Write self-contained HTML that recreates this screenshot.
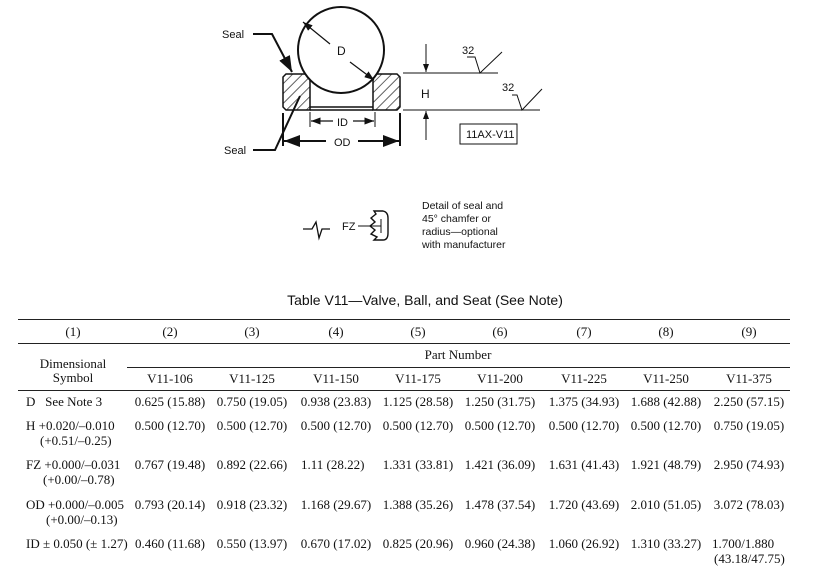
<!DOCTYPE html>
<html><head><meta charset="utf-8"><style>
body{margin:0;background:#fff;width:827px;height:569px;position:relative;overflow:hidden;font-family:"Liberation Serif",serif;color:#111}
.t{position:absolute;font-size:13px;white-space:nowrap;line-height:1}
.c{transform:translateX(-50%)}
.ln{position:absolute;height:1px;background:#222}
</style></head><body>
<svg width="827" height="315" style="position:absolute;left:0;top:0" font-family="Liberation Sans, sans-serif" font-size="11">
<defs>
<pattern id="h" width="7" height="7" patternUnits="userSpaceOnUse" patternTransform="rotate(45)"><line x1="0" y1="0" x2="0" y2="7" stroke="#222" stroke-width="1.4"/></pattern>
<marker id="a" markerWidth="8" markerHeight="6" refX="8" refY="3" orient="auto"><path d="M0,0L8,3L0,6z" fill="#111"/></marker>
</defs>
<g stroke="#111" fill="none" stroke-width="1.5">
<path d="M286,74H310V110H286L283,107V77Z" fill="url(#h)"/>
<path d="M373,74H397L400,77V107L397,110H373Z" fill="url(#h)"/>
<line x1="310" y1="107" x2="373" y2="107"/>
<line x1="310" y1="110" x2="373" y2="110"/>
<circle cx="341" cy="50" r="43" fill="#fff" stroke-width="2"/>
<line x1="330" y1="44" x2="303" y2="22" marker-end="url(#a)" stroke-width="1.2"/>
<line x1="350" y1="62" x2="374" y2="80" marker-end="url(#a)" stroke-width="1.2"/>
<polyline points="253,34 272,34 292,72" marker-end="url(#a)" stroke-width="2"/>
<polyline points="253,150 275,150 300,96" stroke-width="2"/>
<line x1="310" y1="112" x2="310" y2="127" stroke-width="1"/>
<line x1="375" y1="112" x2="375" y2="127" stroke-width="1"/>
<line x1="333" y1="121" x2="311" y2="121" marker-end="url(#a)" stroke-width="1.2"/>
<line x1="353" y1="121" x2="374" y2="121" marker-end="url(#a)" stroke-width="1.2"/>
<line x1="283" y1="113" x2="283" y2="146" stroke-width="2"/>
<line x1="400" y1="113" x2="400" y2="146" stroke-width="2"/>
<line x1="326" y1="141" x2="284" y2="141" marker-end="url(#a)" stroke-width="2"/>
<line x1="358" y1="141" x2="399" y2="141" marker-end="url(#a)" stroke-width="2"/>
<line x1="403" y1="73" x2="498" y2="73" stroke-width="1"/>
<line x1="403" y1="110" x2="540" y2="110" stroke-width="1"/>
<line x1="426" y1="44" x2="426" y2="72" marker-end="url(#a)" stroke-width="1"/>
<line x1="426" y1="140" x2="426" y2="111" marker-end="url(#a)" stroke-width="1"/>
<polyline points="467,57 475,57 480,73 502,52" stroke-width="1"/>
<polyline points="512,95 517,95 522,110 542,89" stroke-width="1"/>
<rect x="460" y="124" width="57" height="20" stroke-width="1"/>
<path d="M303,229H312L316,222L319,238L322,229H330" stroke-width="1.3"/>
<line x1="358" y1="226" x2="368" y2="226" stroke-width="1"/>
<path d="M374,211H383Q388,212 388,218V233Q388,240 383,240H374L377,237L371,234L375,230L370,226L375,222L371,218L376,214Z" stroke-width="1.4"/>
<line x1="368" y1="226" x2="381" y2="226" stroke-width="1"/>
<line x1="381" y1="219" x2="381" y2="233" stroke-width="1"/>
</g>
<g fill="#111">
<text x="222" y="38">Seal</text>
<text x="224" y="154">Seal</text>
<text x="337" y="55" font-size="12">D</text>
<text x="421" y="98" font-size="12">H</text>
<text x="337" y="126">ID</text>
<text x="334" y="146">OD</text>
<text x="462" y="54">32</text>
<text x="502" y="91">32</text>
<text x="466" y="138">11AX-V11</text>
<text x="342" y="230">FZ</text>
<text x="422" y="209" font-size="10.5">Detail of seal and</text>
<text x="422" y="222" font-size="10.5">45° chamfer or</text>
<text x="422" y="235" font-size="10.5">radius—optional</text>
<text x="422" y="248" font-size="10.5">with manufacturer</text>
<text x="425" y="305" font-size="14" text-anchor="middle">Table  V11—Valve, Ball, and Seat (See Note)</text>
</g>
</svg>
<div class="ln" style="left:18px;top:319px;width:772px"></div>
<div class="ln" style="left:18px;top:343px;width:772px"></div>
<div class="ln" style="left:127px;top:367px;width:663px"></div>
<div class="ln" style="left:18px;top:390px;width:772px"></div>

<div class="t c" style="left:73px;top:325px">(1)</div>
<div class="t c" style="left:170px;top:325px">(2)</div>
<div class="t c" style="left:252px;top:325px">(3)</div>
<div class="t c" style="left:336px;top:325px">(4)</div>
<div class="t c" style="left:418px;top:325px">(5)</div>
<div class="t c" style="left:500px;top:325px">(6)</div>
<div class="t c" style="left:584px;top:325px">(7)</div>
<div class="t c" style="left:666px;top:325px">(8)</div>
<div class="t c" style="left:749px;top:325px">(9)</div>
<div class="t c" style="left:458px;top:348px">Part Number</div>
<div class="t c" style="left:73px;top:357px">Dimensional</div>
<div class="t c" style="left:73px;top:371px">Symbol</div>
<div class="t c" style="left:170px;top:372px">V11-106</div>
<div class="t c" style="left:252px;top:372px">V11-125</div>
<div class="t c" style="left:336px;top:372px">V11-150</div>
<div class="t c" style="left:418px;top:372px">V11-175</div>
<div class="t c" style="left:500px;top:372px">V11-200</div>
<div class="t c" style="left:584px;top:372px">V11-225</div>
<div class="t c" style="left:666px;top:372px">V11-250</div>
<div class="t c" style="left:749px;top:372px">V11-375</div>

<div class="t" style="left:26px;top:395px">D&nbsp;&nbsp;&nbsp;See Note 3</div>
<div class="t" style="left:26px;top:419px">H +0.020/–0.010</div>
<div class="t" style="left:40px;top:434px">(+0.51/–0.25)</div>
<div class="t" style="left:26px;top:458px">FZ +0.000/–0.031</div>
<div class="t" style="left:43px;top:473px">(+0.00/–0.78)</div>
<div class="t" style="left:26px;top:498px">OD +0.000/–0.005</div>
<div class="t" style="left:46px;top:513px">(+0.00/–0.13)</div>
<div class="t" style="left:26px;top:537px">ID ± 0.050 (± 1.27)</div>

<div class="t c" style="left:170px;top:395px">0.625 (15.88)</div><div class="t c" style="left:252px;top:395px">0.750 (19.05)</div><div class="t c" style="left:336px;top:395px">0.938 (23.83)</div><div class="t c" style="left:418px;top:395px">1.125 (28.58)</div><div class="t c" style="left:500px;top:395px">1.250 (31.75)</div><div class="t c" style="left:584px;top:395px">1.375 (34.93)</div><div class="t c" style="left:666px;top:395px">1.688 (42.88)</div><div class="t c" style="left:749px;top:395px">2.250 (57.15)</div>

<div class="t c" style="left:170px;top:419px">0.500 (12.70)</div><div class="t c" style="left:252px;top:419px">0.500 (12.70)</div><div class="t c" style="left:336px;top:419px">0.500 (12.70)</div><div class="t c" style="left:418px;top:419px">0.500 (12.70)</div><div class="t c" style="left:500px;top:419px">0.500 (12.70)</div><div class="t c" style="left:584px;top:419px">0.500 (12.70)</div><div class="t c" style="left:666px;top:419px">0.500 (12.70)</div><div class="t c" style="left:749px;top:419px">0.750 (19.05)</div>

<div class="t c" style="left:170px;top:458px">0.767 (19.48)</div><div class="t c" style="left:252px;top:458px">0.892 (22.66)</div><div class="t" style="left:301px;top:458px">1.11 (28.22)</div><div class="t c" style="left:418px;top:458px">1.331 (33.81)</div><div class="t c" style="left:500px;top:458px">1.421 (36.09)</div><div class="t c" style="left:584px;top:458px">1.631 (41.43)</div><div class="t c" style="left:666px;top:458px">1.921 (48.79)</div><div class="t c" style="left:749px;top:458px">2.950 (74.93)</div>

<div class="t c" style="left:170px;top:498px">0.793 (20.14)</div><div class="t c" style="left:252px;top:498px">0.918 (23.32)</div><div class="t c" style="left:336px;top:498px">1.168 (29.67)</div><div class="t c" style="left:418px;top:498px">1.388 (35.26)</div><div class="t c" style="left:500px;top:498px">1.478 (37.54)</div><div class="t c" style="left:584px;top:498px">1.720 (43.69)</div><div class="t c" style="left:666px;top:498px">2.010 (51.05)</div><div class="t c" style="left:749px;top:498px">3.072 (78.03)</div>

<div class="t c" style="left:170px;top:537px">0.460 (11.68)</div><div class="t c" style="left:252px;top:537px">0.550 (13.97)</div><div class="t c" style="left:336px;top:537px">0.670 (17.02)</div><div class="t c" style="left:418px;top:537px">0.825 (20.96)</div><div class="t c" style="left:500px;top:537px">0.960 (24.38)</div><div class="t c" style="left:584px;top:537px">1.060 (26.92)</div><div class="t c" style="left:666px;top:537px">1.310 (33.27)</div><div class="t" style="left:712px;top:537px">1.700/1.880</div>
<div class="t" style="left:714px;top:552px">(43.18/47.75)</div>
</body></html>
